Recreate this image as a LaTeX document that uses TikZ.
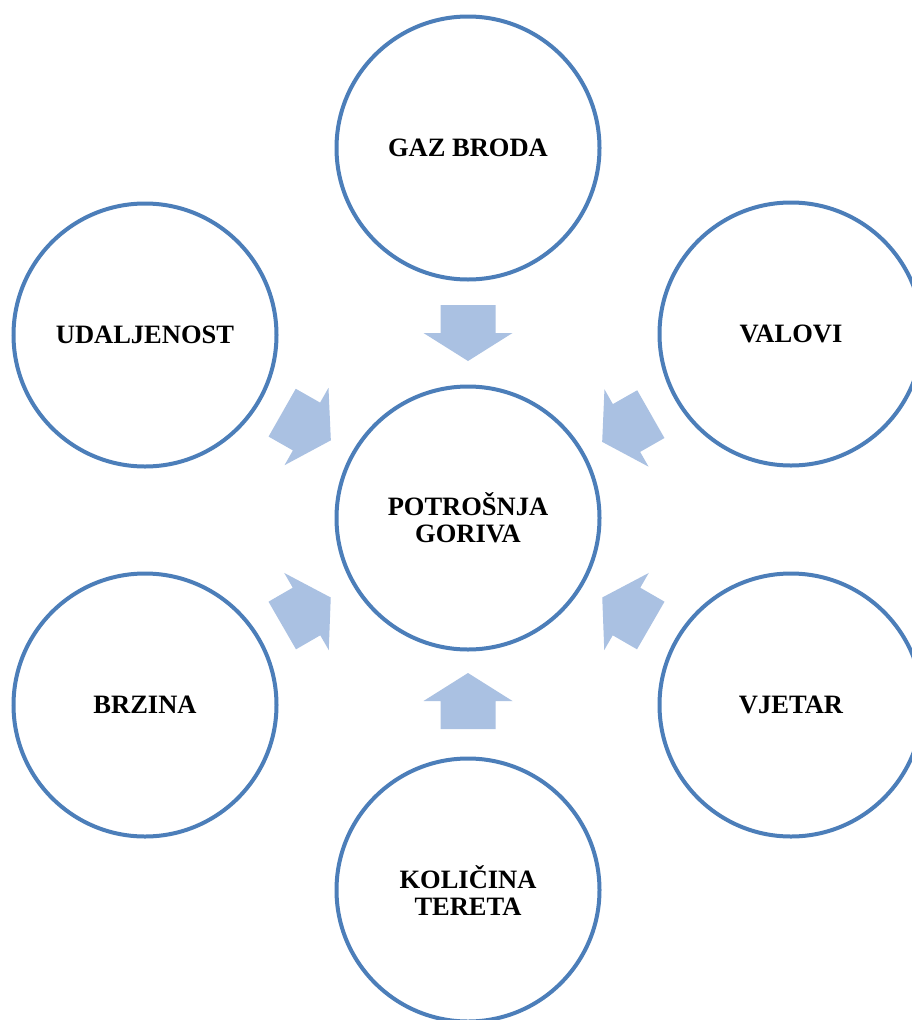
\documentclass[tikz,border=0pt]{standalone}
\usepackage{fontspec}
\setmainfont{Liberation Serif}
\usetikzlibrary{calc}
\definecolor{ringblue}{RGB}{76,126,185}
\definecolor{arrowfill}{RGB}{170,193,226}
\tikzset{
  ring/.style={circle, draw=ringblue, line width=4pt, minimum size=263pt, inner sep=0pt,
    align=center, font=\fontsize{26.5}{27}\selectfont\bfseries, text=black},
  blockarrow/.pic={
    \fill[arrowfill] (-28,-27.5) -- (0,-27.5) -- (0,-44.5) -- (28,0) -- (0,44.5) -- (0,27.5) -- (-28,27.5) -- cycle;
  }
}
\begin{document}
\begin{tikzpicture}[x=1pt,y=-1pt]
\useasboundingbox (0,0) rectangle (912,1020);
\fill[white] (0,0) rectangle (912,1020);
\clip (0,0) rectangle (912,1020);
\node[ring] (c)  at (468,518) {POTROŠNJA\\GORIVA};
\node[ring] (t)  at (468,148) {GAZ BRODA};
\node[ring] (ul) at (145,335) {UDALJENOST};
\node[ring] (ur) at (791,334) {VALOVI};
\node[ring] (ll) at (145,705) {BRZINA};
\node[ring] (lr) at (791,705) {VJETAR};
\node[ring] (b)  at (468,890) {KOLIČINA\\TERETA};
\pic[rotate=-90]    at ($(t)!0.5!(c)$)  {blockarrow};
\pic[rotate=90]     at ($(b)!0.5!(c)+(0,-3)$)  {blockarrow};
\pic[rotate=-29.6]  at ($(ul)!0.5!(c)$) {blockarrow};
\pic[rotate=-150.3] at ($(ur)!0.5!(c)+(-3,2)$) {blockarrow};
\pic[rotate=30]     at ($(ll)!0.5!(c)$) {blockarrow};
\pic[rotate=150]    at ($(lr)!0.5!(c)+(-3,0)$) {blockarrow};
\end{tikzpicture}
\end{document}
